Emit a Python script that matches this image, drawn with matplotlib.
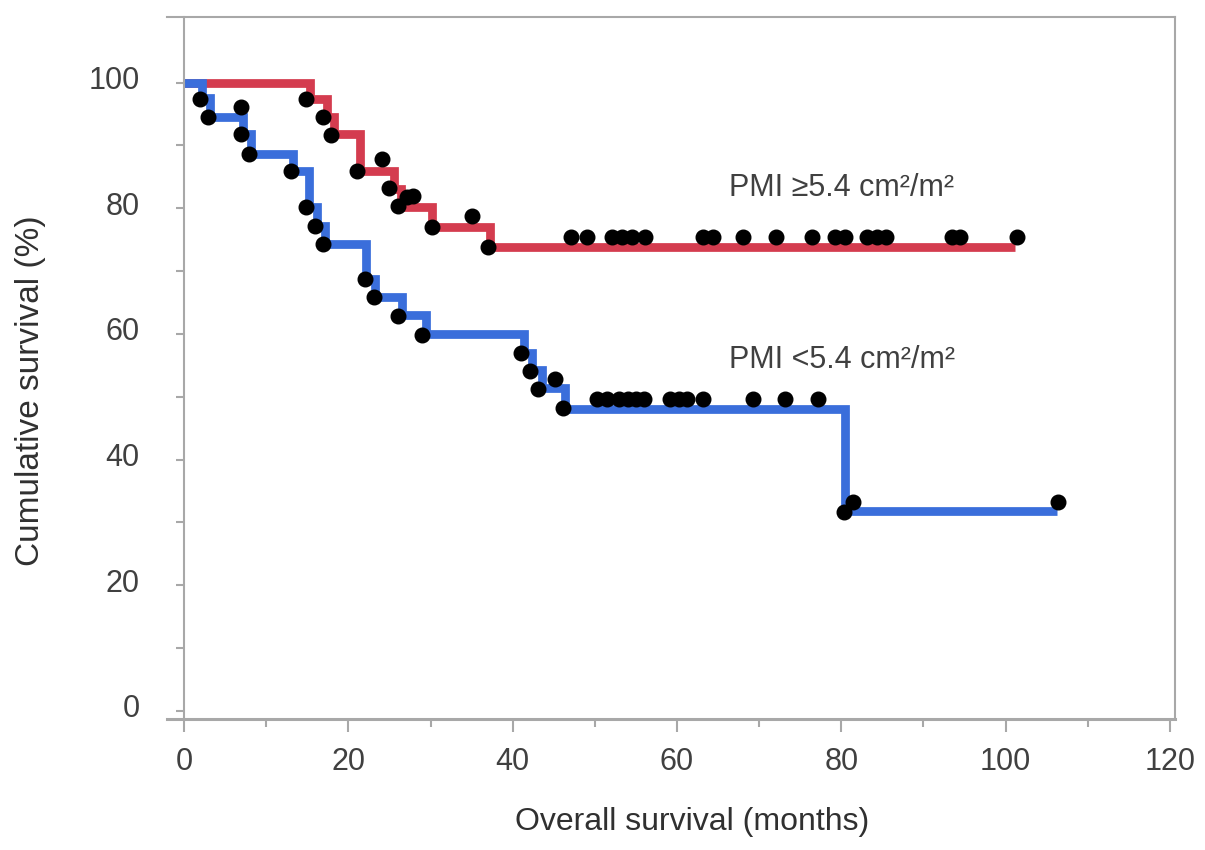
import matplotlib
matplotlib.use("Agg")
import matplotlib.pyplot as plt
from matplotlib.transforms import ScaledTranslation

plt.rcParams['font.family'] = ['Liberation Sans', 'DejaVu Sans']

# Kaplan-Meier steps (months, % surviving)
high_times = [0, 15.3, 17.4, 18.3, 21.4, 25.5, 26.4, 30.2, 37.3, 101.2]
high_surv = [100, 97.4, 94.6, 91.8, 86.0, 83.1, 80.2, 77.1, 73.9, 73.9]

low_times = [0, 2.2, 3.2, 7.2, 8.1, 13.3, 15.2, 16.2, 17.2, 22.2, 23.3, 26.5,
             29.4, 41.4, 42.4, 43.6, 46.4, 80.5, 106.3]
low_surv = [100, 97.6, 94.5, 91.8, 88.6, 85.9, 80.2, 77.2, 74.3, 68.8, 65.9, 63.0,
            60.0, 57.0, 54.2, 51.4, 48.0, 31.8, 31.8]

# black dots (events / censored cases)
high_dot_x = [14.9, 16.9, 17.9, 21.0, 24.1, 25.0, 26.1, 27.1, 27.9, 30.2, 35.0, 37.0,
              47.1, 49.1, 52.1, 53.3, 54.5, 56.1, 63.2, 64.4, 68.0, 72.1, 76.4,
              79.2, 80.5, 83.1, 84.3, 85.5, 93.5, 94.5, 101.4]
high_dot_y = [97.4, 94.6, 91.7, 86.0, 87.8, 83.2, 80.3, 81.8, 82.0, 77.1, 78.8, 73.9,
              75.4, 75.4, 75.4, 75.4, 75.4, 75.4, 75.4, 75.4, 75.4, 75.4, 75.4,
              75.4, 75.4, 75.4, 75.4, 75.4, 75.4, 75.4, 75.4]

low_dot_x = [1.9, 2.9, 6.9, 6.9, 7.9, 13.0, 14.9, 15.9, 16.9, 22.0, 23.1, 26.0, 29.0,
             41.0, 42.1, 45.2, 43.1, 46.1,
             50.3, 51.5, 53.0, 54.0, 55.0, 56.0, 59.2, 60.2, 61.2, 63.2, 69.2, 73.2, 77.2,
             80.3, 81.4, 106.4]
low_dot_y = [97.4, 94.5, 96.2, 91.8, 88.6, 85.9, 80.2, 77.2, 74.3, 68.7, 65.8, 62.9, 59.9,
             57.0, 54.1, 52.8, 51.3, 48.2,
             49.6, 49.6, 49.6, 49.6, 49.6, 49.6, 49.6, 49.6, 49.6, 49.6, 49.6, 49.6, 49.6,
             31.7, 33.3, 33.3]

high_label = "PMI \u22655.4 cm\u00b2/m\u00b2"
low_label = "PMI <5.4 cm\u00b2/m\u00b2"

red = '#d43c4f'
blue = '#3a6edb'
grey = '#a8a8a8'
text_grey = '#404040'

fig = plt.figure(figsize=(12.05, 8.5), dpi=100)
ax = fig.add_axes([0.1388, 0.1541, 0.8361, 0.8259])

ax.step(high_times, high_surv, where='post', color=red, lw=6.3,
        solid_joinstyle='miter', solid_capstyle='butt', zorder=2)
ax.step(low_times, low_surv, where='post', color=blue, lw=6.3,
        solid_joinstyle='miter', solid_capstyle='butt', zorder=2)
ax.plot(high_dot_x, high_dot_y, 'o', color='black', ms=10.5, zorder=3)
ax.plot(low_dot_x, low_dot_y, 'o', color='black', ms=10.5, zorder=3)

ax.text(66.3, 83.3, high_label, fontsize=22, color=text_grey, va='center', ha='left')
ax.text(66.3, 55.8, low_label, fontsize=22, color=text_grey, va='center', ha='left')

ax.set_xlim(-2.05, 120.6)
ax.set_ylim(-1.32, 110.46)

ax.spines['left'].set_position(('data', 0))
for side in ['left', 'right', 'top', 'bottom']:
    ax.spines[side].set_color(grey)
    ax.spines[side].set_linewidth(1.5)
ax.spines['bottom'].set_linewidth(2.2)

ax.set_xticks(range(0, 121, 20))
ax.set_xticks(range(10, 120, 20), minor=True)
ax.set_yticks(range(0, 101, 20))
ax.set_yticks(range(10, 100, 20), minor=True)

ax.tick_params(axis='x', which='major', length=9, width=1.5, color=grey,
               labelsize=22, labelcolor=text_grey, pad=11)
ax.tick_params(axis='x', which='minor', length=6, width=1.5, color=grey)
ax.tick_params(axis='y', which='both', length=6, width=1.5, color=grey,
               labelsize=22, labelcolor=text_grey, pad=26)

shift = ScaledTranslation(0, 0.05, fig.dpi_scale_trans)
for lab in ax.get_yticklabels():
    lab.set_transform(lab.get_transform() + shift)

ax.set_xlabel("Overall survival (months)", fontsize=23, color='#303030', va='center')
ax.xaxis.set_label_coords(0.521, -0.1463)
ax.set_ylabel("Cumulative survival (%)", fontsize=24, color='#303030',
              va='center', ha='center')
ax.yaxis.set_label_coords(-0.1362, 0.4672)

fig.savefig('out.png', dpi=100)
